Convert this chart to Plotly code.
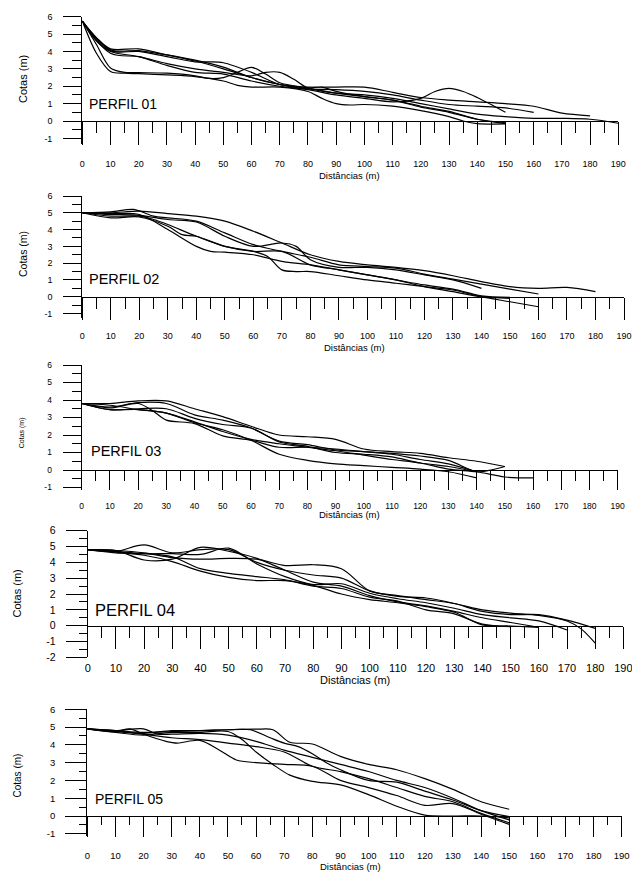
import plotly.graph_objects as go

W, H = 632, 872
FONT = "Liberation Sans, Arial, Helvetica, sans-serif"

# ---------------- tick labels ----------------
X_TICKS = [0, 10, 20, 30, 40, 50, 60, 70, 80, 90, 100, 110, 120, 130, 140, 150, 160, 170, 180, 190]
X_TICK_LABELS = ["0", "10", "20", "30", "40", "50", "60", "70", "80", "90", "100", "110", "120",
                 "130", "140", "150", "160", "170", "180", "190"]
X_MINOR = [5, 15, 25, 35, 45, 55, 65, 75, 85, 95, 105, 115, 125, 135, 145, 155, 165, 175, 185]
Y_TICKS = [-2, -1, 0, 1, 2, 3, 4, 5, 6]
Y_TICK_LABELS = ["-2", "-1", "0", "1", "2", "3", "4", "5", "6"]
Y_MINOR = [-1.5, -0.5, 0.5, 1.5, 2.5, 3.5, 4.5, 5.5]

PROFILE_NAMES = ["PERFIL 01", "PERFIL 02", "PERFIL 03", "PERFIL 04", "PERFIL 05"]

# ---------------- data: distance (m) / elevation (m) ----------------
P1_DIST = [
    [0, 5, 10, 20, 30, 40, 50, 60, 70, 80, 90, 100, 110, 120, 125, 130, 135, 140, 150],
    [0, 5, 10, 20, 30, 40, 50, 60, 70, 80, 90, 100, 110, 120, 130, 140, 150, 160, 170, 180],
    [0, 10, 20, 30, 40, 45, 50, 60, 70, 80, 90, 100, 110, 120, 130, 140, 150, 160],
    [0, 10, 20, 30, 40, 50, 60, 65, 70, 75, 80, 90, 100, 110, 120, 130, 140, 150, 160, 170, 180, 190],
    [0, 5, 10, 15, 20, 30, 40, 45, 50, 55, 60, 65, 70, 80, 90, 100, 110, 120, 130, 140, 150],
    [0, 5, 10, 15, 20, 30, 40, 50, 55, 60, 70, 80, 85, 90, 95, 100, 110, 120, 130, 135, 140, 150],
    [0, 10, 20, 30, 40, 50, 60, 70, 80, 85, 90, 100, 110, 120, 130, 140, 150],
]
P1_COTA = [
    [5.75, 4.6, 4.0, 3.7, 3.2, 2.8, 2.7, 2.3, 2.0, 1.8, 1.5, 1.3, 1.1, 1.3, 1.7, 1.88, 1.7, 1.35, 0.5],
    [5.75, 4.8, 4.15, 4.15, 3.8, 3.45, 3.0, 2.5, 2.1, 1.95, 1.95, 1.95, 1.65, 1.35, 1.2, 1.1, 1.0, 0.85, 0.45, 0.3],
    [5.75, 4.05, 4.0, 3.7, 3.4, 3.4, 3.35, 2.8, 2.1, 1.85, 1.8, 1.7, 1.5, 1.2, 0.95, 0.85, 0.75, 0.5],
    [5.75, 3.9, 3.7, 3.3, 3.0, 2.8, 2.6, 2.8, 2.8, 2.4, 1.9, 1.6, 1.5, 1.3, 1.0, 0.7, 0.4, 0.25, 0.15, 0.15, 0.1, -0.13],
    [5.75, 4.4, 3.05, 2.8, 2.78, 2.75, 2.6, 2.45, 2.5, 2.8, 3.08, 2.7, 2.2, 1.9, 1.6, 1.4, 1.2, 0.8, 0.5, 0.1, -0.1],
    [5.75, 3.9, 2.85, 2.75, 2.72, 2.65, 2.55, 2.3, 2.05, 1.95, 1.95, 1.7, 1.3, 1.0, 0.92, 0.95, 0.85, 0.6, 0.25, 0.0, -0.15, -0.17],
    [5.75, 4.1, 4.05, 3.8, 3.5, 3.1, 2.5, 2.1, 1.9, 1.95, 1.7, 1.4, 1.2, 0.85, 0.55, 0.1, -0.15],
]

P2_DIST = [
    [0, 10, 20, 30, 40, 50, 60, 70, 80, 90, 100, 110, 120, 130, 140, 150, 160, 170, 180],
    [0, 10, 18, 25, 30, 40, 50, 60, 70, 80, 90, 100, 110, 120, 130, 140, 150, 160],
    [0, 10, 20, 30, 40, 50, 60, 70, 75, 80, 90, 100, 110, 120, 130, 140],
    [0, 10, 20, 30, 35, 40, 50, 60, 70, 80, 90, 100, 110, 120, 130, 140, 150],
    [0, 10, 20, 30, 40, 45, 50, 60, 70, 80, 90, 100, 110, 120, 130, 140, 150],
    [0, 10, 20, 25, 30, 40, 50, 60, 65, 70, 75, 80, 90, 100, 110, 120, 130, 140, 150, 160],
]
P2_COTA = [
    [5.0, 5.0, 5.1, 4.95, 4.8, 4.5, 3.9, 3.2, 2.5, 2.1, 1.9, 1.75, 1.55, 1.25, 0.9, 0.6, 0.5, 0.55, 0.3],
    [5.0, 5.05, 5.2, 4.8, 4.7, 4.5, 3.8, 3.1, 2.7, 2.35, 1.9, 1.8, 1.7, 1.35, 1.05, 0.75, 0.45, 0.16],
    [5.0, 4.9, 4.85, 4.6, 4.45, 3.6, 3.0, 3.2, 3.0, 2.2, 1.75, 1.75, 1.6, 1.3, 1.0, 0.5],
    [5.0, 4.7, 4.75, 4.2, 3.7, 3.6, 3.0, 2.7, 2.7, 1.9, 1.6, 1.3, 1.0, 0.7, 0.45, 0.05, -0.04],
    [5.0, 4.95, 4.9, 4.0, 3.0, 2.7, 2.65, 2.5, 2.1, 1.9, 1.6, 1.3, 1.0, 0.6, 0.3, 0.0, -0.1],
    [5.0, 4.8, 4.8, 4.6, 4.3, 3.6, 3.0, 2.7, 2.4, 1.6, 1.5, 1.5, 1.25, 1.0, 0.8, 0.6, 0.4, 0.0, -0.3, -0.6],
]

P3_DIST = [
    [0, 10, 20, 30, 40, 50, 60, 70, 80, 90, 100, 110, 120, 130, 140, 150],
    [0, 10, 20, 30, 40, 50, 60, 70, 80, 90, 100, 110, 120, 130, 140, 145, 150],
    [0, 10, 20, 30, 40, 50, 60, 70, 80, 90, 100, 110, 120, 130, 140],
    [0, 10, 20, 30, 40, 50, 60, 70, 80, 90, 100, 110, 120, 130, 140, 150, 160],
    [0, 10, 20, 25, 30, 40, 50, 60, 70, 80, 90, 100, 110, 120, 130, 140],
    [0, 10, 20, 30, 40, 50, 60, 70, 80, 90, 100, 110, 120, 130, 140],
]
P3_COTA = [
    [3.8, 3.8, 3.95, 3.95, 3.5, 3.05, 2.5, 2.0, 1.9, 1.75, 1.2, 1.05, 0.95, 0.7, 0.5, 0.2],
    [3.8, 3.6, 3.85, 3.8, 3.15, 2.85, 2.4, 1.65, 1.45, 1.15, 1.05, 0.95, 0.8, 0.55, -0.1, 0.0, 0.2],
    [3.8, 3.45, 3.5, 3.5, 2.95, 2.6, 2.4, 1.6, 1.35, 1.0, 0.9, 0.75, 0.4, 0.2, -0.1],
    [3.8, 3.45, 3.45, 3.25, 2.75, 2.2, 1.75, 1.5, 1.3, 1.1, 0.85, 0.6, 0.4, 0.05, -0.1, -0.4, -0.45],
    [3.8, 3.55, 3.8, 3.4, 2.85, 2.65, 1.95, 1.7, 1.3, 1.3, 1.2, 1.05, 0.9, 0.6, 0.35, -0.1],
    [3.8, 3.7, 3.45, 3.25, 2.7, 2.3, 1.7, 0.9, 0.55, 0.35, 0.25, 0.15, 0.05, -0.1, -0.45],
]

P4_DIST = [
    [0, 10, 20, 30, 40, 50, 60, 70, 80, 90, 100, 110, 120, 130, 140, 150, 160, 170, 175, 180],
    [0, 10, 20, 30, 40, 50, 60, 70, 80, 90, 100, 110, 120, 130, 140, 150, 160, 170, 180],
    [0, 10, 20, 30, 40, 50, 60, 70, 80, 90, 100, 110, 120, 130, 140, 150, 160, 170],
    [0, 10, 20, 30, 40, 50, 60, 70, 80, 90, 100, 110, 120, 130, 140, 150, 160],
    [0, 10, 20, 30, 40, 50, 60, 70, 80, 90, 100, 110, 120, 130, 140, 150],
    [0, 10, 20, 30, 40, 50, 60, 70, 80, 90, 100, 110, 120, 130, 140, 150, 160],
]
P4_COTA = [
    [4.8, 4.75, 4.6, 4.3, 4.2, 4.25, 4.2, 3.8, 3.85, 3.6, 2.2, 1.9, 1.65, 1.4, 1.0, 0.8, 0.65, 0.3, -0.2, -1.1],
    [4.8, 4.7, 5.1, 4.6, 4.8, 4.8, 4.0, 3.5, 3.2, 3.0, 2.2, 1.85, 1.75, 1.4, 0.9, 0.7, 0.7, 0.35, -0.17],
    [4.8, 4.7, 4.55, 4.55, 4.5, 4.9, 3.9, 3.1, 2.6, 2.65, 2.05, 1.7, 1.45, 1.1, 0.7, 0.5, 0.3, -0.27],
    [4.8, 4.75, 4.15, 4.2, 4.95, 4.7, 4.25, 3.5, 2.75, 2.5, 1.9, 1.5, 1.25, 0.9, 0.5, 0.2, -0.1],
    [4.8, 4.6, 4.55, 4.35, 3.6, 3.3, 3.1, 2.9, 2.5, 2.35, 1.8, 1.55, 1.0, 0.75, 0.1, -0.06],
    [4.8, 4.65, 4.45, 4.05, 3.45, 3.05, 2.85, 2.85, 2.55, 2.0, 1.65, 1.45, 1.2, 0.85, 0.05, -0.02, -0.1],
]

P5_DIST = [
    [0, 10, 20, 30, 40, 50, 60, 66, 72, 80, 90, 100, 110, 120, 130, 140, 150],
    [0, 10, 20, 30, 40, 50, 58, 65, 70, 75, 80, 85, 90, 100, 110, 120, 130, 140, 150],
    [0, 10, 20, 25, 30, 40, 50, 60, 70, 80, 90, 100, 110, 120, 130, 140, 150],
    [0, 10, 20, 30, 40, 50, 60, 70, 80, 90, 100, 110, 120, 130, 140, 150],
    [0, 10, 15, 20, 28, 32, 40, 47, 53, 60, 70, 80, 90, 100, 110, 120, 130, 140, 150],
    [0, 10, 20, 30, 40, 50, 55, 60, 66, 72, 80, 90, 100, 110, 120, 130, 140, 150],
]
P5_COTA = [
    [4.9, 4.8, 4.7, 4.75, 4.8, 4.85, 4.88, 4.85, 4.15, 4.05, 3.35, 2.9, 2.6, 2.1, 1.5, 0.8, 0.38],
    [4.9, 4.75, 4.65, 4.8, 4.8, 4.85, 4.85, 4.4, 4.1, 3.9, 3.5, 3.0, 2.6, 2.0, 1.9, 1.4, 0.9, 0.3, -0.04],
    [4.9, 4.8, 4.9, 4.6, 4.6, 4.65, 4.55, 4.2, 3.7, 3.3, 2.9, 2.5, 2.0, 1.6, 1.0, 0.3, -0.22],
    [4.9, 4.8, 4.6, 4.4, 4.3, 4.1, 3.9, 3.6, 2.8, 2.5, 2.1, 1.6, 1.1, 0.8, 0.15, -0.38],
    [4.9, 4.75, 4.9, 4.6, 4.2, 4.1, 4.25, 3.7, 3.15, 3.0, 2.9, 2.8, 2.0, 1.6, 1.15, 0.6, 0.7, 0.1, -0.47],
    [4.9, 4.7, 4.55, 4.7, 4.7, 4.75, 4.3, 3.6, 2.9, 2.3, 1.95, 1.75, 1.2, 0.55, 0.05, 0.0, 0.0, -0.1],
]

PANEL_DIST = [P1_DIST, P2_DIST, P3_DIST, P4_DIST, P5_DIST]
PANEL_COTA = [P1_COTA, P2_COTA, P3_COTA, P4_COTA, P5_COTA]

# ---------------- layout (pixel geometry of each panel) ----------------
LAYOUT = [
    dict(x0=82.3, x1=618.3, ytop=16.7, y0=121.0, ymin=-1.32, ymax=6, xtl=23, xml=11, ytl=18, yml=9,
         xf=9, yf=9, xs=11, ys=9, pf=14, px=1.7, py=0.98, dist=(350, 175.7), cota=(23, 79), cf=11, df=9.5),
    dict(x0=82.3, x1=624.0, ytop=196.0, y0=296.7, ymin=-1.29, ymax=6, xtl=21.7, xml=11, ytl=18, yml=9,
         xf=9, yf=9, xs=9, ys=9, pf=14.5, px=1.7, py=1.05, dist=(354, 348), cota=(23, 254), cf=10.5, df=9.5),
    dict(x0=81.7, x1=617.7, ytop=365.0, y0=470.0, ymin=-1.10, ymax=6, xtl=19.3, xml=10, ytl=18, yml=9,
         xf=8.5, yf=8.5, xs=8, ys=9, pf=14.5, px=2.6, py=1.11, dist=(349.5, 514.3), cota=(21.7, 432.5), cf=7, df=9.5),
    dict(x0=87.7, x1=623.4, ytop=530.7, y0=625.7, ymin=-2.0, ymax=6, xtl=22.6, xml=11.5, ytl=21, yml=8,
         xf=11, yf=10.5, xs=9, ys=8, pf=16.5, px=2.0, py=0.99, dist=(355, 680), cota=(16.5, 594), cf=11, df=11),
    dict(x0=87.3, x1=621.7, ytop=709.3, y0=816.0, ymin=-1.125, ymax=6, xtl=20, xml=7.5, ytl=21, yml=7.5,
         xf=9.5, yf=9.5, xs=10, ys=8, pf=14, px=2.0, py=0.97, dist=(350.8, 866), cota=(16.5, 776), cf=10, df=9.5),
]

fig = go.Figure()
annotations = []

for i, (dists, cotas, g) in enumerate(zip(PANEL_DIST, PANEL_COTA, LAYOUT)):
    n = i + 1
    xa = "x" if n == 1 else f"x{n}"
    ya = "y" if n == 1 else f"y{n}"
    for xs, ys in zip(dists, cotas):
        fig.add_trace(go.Scatter(x=xs, y=ys, xaxis=xa, yaxis=ya, mode="lines",
                                 line=dict(color="black", width=1.2, shape="spline", smoothing=0.9),
                                 hoverinfo="skip", showlegend=False))
    unit = (g["y0"] - g["ytop"]) / (g["ymax"] - 0)
    ybot_px = g["y0"] + (0 - g["ymin"]) * unit
    yt = [v for v in Y_TICKS if g["ymin"] - 1e-6 <= v <= g["ymax"]]
    ytl = [Y_TICK_LABELS[Y_TICKS.index(v)] for v in yt]
    ym = [v for v in Y_MINOR if g["ymin"] <= v <= g["ymax"]]
    xkey = "xaxis" if n == 1 else f"xaxis{n}"
    ykey = "yaxis" if n == 1 else f"yaxis{n}"
    fig.layout[xkey] = dict(
        domain=[g["x0"] / W, g["x1"] / W], anchor="free", position=1 - g["y0"] / H,
        range=[0, 190], showgrid=False, zeroline=False,
        showline=True, linecolor="black", linewidth=1.2,
        tickmode="array", tickvals=X_TICKS, ticktext=X_TICK_LABELS,
        ticks="outside", ticklen=g["xtl"], tickwidth=1.2, tickcolor="black",
        minor=dict(tickmode="array", tickvals=X_MINOR, ticks="outside", ticklen=g["xml"],
                   tickwidth=1.2, tickcolor="black", showgrid=False),
        tickfont=dict(family=FONT, size=g["xf"], color="black"), ticklabelstandoff=g["xs"],
        ticklabeloverflow="allow", automargin=False, fixedrange=True,
    )
    fig.layout[ykey] = dict(
        domain=[1 - ybot_px / H, 1 - g["ytop"] / H], anchor=xa,
        range=[g["ymin"], g["ymax"]], showgrid=False, zeroline=False,
        showline=True, linecolor="black", linewidth=1.2,
        tickmode="array", tickvals=yt, ticktext=ytl,
        ticks="outside", ticklen=g["ytl"], tickwidth=1.2, tickcolor="black",
        minor=dict(tickmode="array", tickvals=ym, ticks="outside", ticklen=g["yml"],
                   tickwidth=1.2, tickcolor="black", showgrid=False),
        tickfont=dict(family=FONT, size=g["yf"], color="black"), ticklabelstandoff=g["ys"],
        ticklabeloverflow="allow", automargin=False, fixedrange=True,
    )
    annotations.append(dict(text=PROFILE_NAMES[i], xref=xa, yref=ya, x=g["px"], y=g["py"],
                            xanchor="left", yanchor="middle", showarrow=False,
                            font=dict(family=FONT, size=g["pf"], color="black")))
    annotations.append(dict(text="Distâncias (m)", xref="paper", yref="paper",
                            x=g["dist"][0] / W, y=1 - g["dist"][1] / H,
                            xanchor="center", yanchor="middle", showarrow=False,
                            font=dict(family=FONT, size=g["df"], color="black")))
    annotations.append(dict(text="Cotas (m)", xref="paper", yref="paper", textangle=-90,
                            x=g["cota"][0] / W, y=1 - g["cota"][1] / H,
                            xanchor="center", yanchor="middle", showarrow=False,
                            font=dict(family=FONT, size=g["cf"], color="black")))

fig.update_layout(width=W, height=H, margin=dict(l=0, r=0, t=0, b=0),
                  paper_bgcolor="white", plot_bgcolor="white",
                  annotations=annotations, showlegend=False)

fig.write_html("out.html", config={"displayModeBar": False},
               post_script="document.body.style.margin='0px';")
